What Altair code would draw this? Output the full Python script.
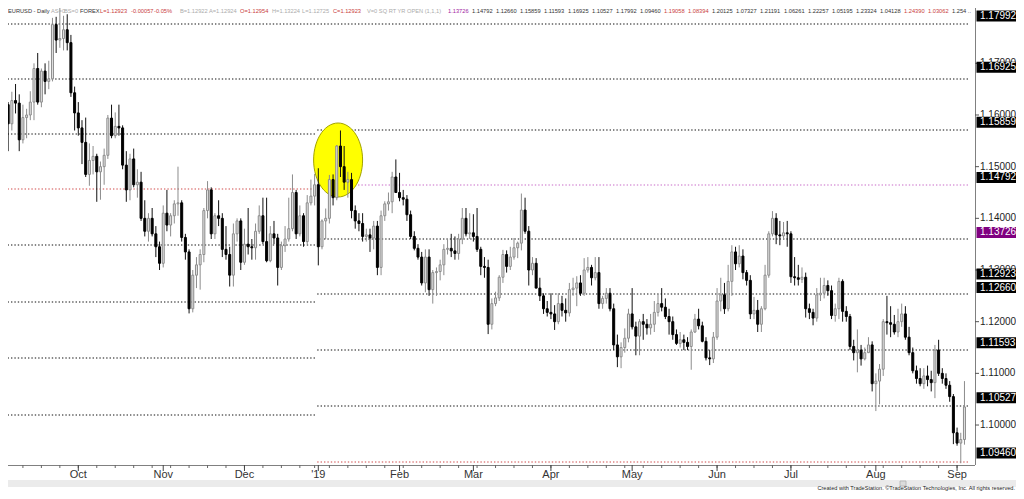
import math
import altair as alt
import numpy as np
import pandas as pd

# ---------------- data (EURUSD daily) ----------------
opens = [
    1.1620, 1.1583, 1.1628, 1.1623, 1.1552, 1.1595, 1.1600, 1.1625, 1.1690, 1.1625, 1.1685, 1.1665, 1.1670, 1.1775, 1.1745, 1.1748, 1.1765, 1.1740, 1.1643,
    1.1604, 1.1575, 1.1547, 1.1485, 1.1512, 1.1520, 1.1490, 1.1500, 1.1522, 1.1594, 1.1560, 1.1578, 1.1575, 1.1503, 1.1455, 1.1515, 1.1465, 1.1470, 1.1400, 1.1375, 1.1400, 1.1370, 1.1345,
    1.1313, 1.1410, 1.1387, 1.1405, 1.1428, 1.1430, 1.1363, 1.1335, 1.1225, 1.1290, 1.1310, 1.1330, 1.1415, 1.1455, 1.1370, 1.1405, 1.1400, 1.1340, 1.1330, 1.1290, 1.1370, 1.1395,
    1.1315, 1.1350, 1.1345, 1.1343, 1.1375, 1.1405, 1.1355, 1.1318, 1.1370, 1.1362, 1.1305, 1.1347, 1.1360, 1.1380, 1.1450, 1.1370, 1.1405, 1.1355, 1.1430, 1.1443,
    1.1465, 1.1345, 1.1395, 1.1400, 1.1475, 1.1440, 1.1540, 1.1500, 1.1470, 1.1475, 1.1415, 1.1395, 1.1390, 1.1365, 1.1368, 1.1362, 1.1385, 1.1305, 1.1405, 1.1428, 1.1432, 1.1480,
    1.1450, 1.1440, 1.1437, 1.1407, 1.1365, 1.1342, 1.1325, 1.1275, 1.1325, 1.1262, 1.1295, 1.1297, 1.1310, 1.1340, 1.1342, 1.1337, 1.1332, 1.1360, 1.1400, 1.1370,
    1.1372, 1.1365, 1.1340, 1.1307, 1.1305, 1.1195, 1.1235, 1.1246, 1.1286, 1.1330, 1.1307, 1.1325, 1.1343, 1.1352, 1.1416, 1.1375, 1.1300, 1.1313, 1.1265, 1.1250, 1.1225,
    1.1218, 1.1215, 1.1200, 1.1235, 1.1222, 1.1217, 1.1262, 1.1265, 1.1275, 1.1255, 1.1300, 1.1305, 1.1285, 1.1295, 1.1235, 1.1245, 1.1255, 1.1225, 1.1155, 1.1132, 1.1150, 1.1168,
    1.1215, 1.1190, 1.1172, 1.1200, 1.1195, 1.1188, 1.1195, 1.1218, 1.1235, 1.1228, 1.1210, 1.1200, 1.1175, 1.1158, 1.1165, 1.1160, 1.1152, 1.1180, 1.1205, 1.1192, 1.1162, 1.1130, 1.1128,
    1.1170, 1.1240, 1.1252, 1.1225, 1.1278, 1.1335, 1.1312, 1.1327, 1.1295, 1.1280, 1.1215, 1.1222, 1.1195, 1.1225, 1.1290, 1.1370, 1.1400, 1.1368, 1.1366, 1.1372,
    1.1370, 1.1287, 1.1285, 1.1282, 1.1286, 1.1225, 1.1218, 1.1207, 1.1252, 1.1255, 1.1270, 1.1260, 1.1212, 1.1225, 1.1278, 1.1220, 1.1210, 1.1152, 1.1140, 1.1145, 1.1128, 1.1140, 1.1155,
    1.1080, 1.1085, 1.1108, 1.1200, 1.1198, 1.1195, 1.1180, 1.1200, 1.1215, 1.1170, 1.1140, 1.1105, 1.1090, 1.1080, 1.1095, 1.1088, 1.1082, 1.1145, 1.1100, 1.1090, 1.1077, 1.1055,
    1.0985, 1.0965, 1.0972,
]
highs = [
    1.1625, 1.1645, 1.1660, 1.1640, 1.1620, 1.1612, 1.1646, 1.1700, 1.1720, 1.1690, 1.1700, 1.1705, 1.1788, 1.1790, 1.1815, 1.1792, 1.1795, 1.1755, 1.1655,
    1.1625, 1.1590, 1.1595, 1.1545, 1.1540, 1.1525, 1.1510, 1.1535, 1.1600, 1.1620, 1.1605, 1.1620, 1.1580, 1.1530, 1.1525, 1.1535, 1.1495, 1.1490, 1.1435, 1.1410, 1.1420, 1.1385, 1.1355,
    1.1425, 1.1455, 1.1410, 1.1435, 1.1500, 1.1435, 1.1370, 1.1340, 1.1300, 1.1325, 1.1340, 1.1420, 1.1472, 1.1460, 1.1410, 1.1435, 1.1410, 1.1385, 1.1345, 1.1390, 1.1400, 1.1400,
    1.1380, 1.1420, 1.1360, 1.1390, 1.1425, 1.1440, 1.1440, 1.1385, 1.1395, 1.1370, 1.1355, 1.1385, 1.1440, 1.1485, 1.1455, 1.1425, 1.1410, 1.1445, 1.1475, 1.1486,
    1.1497, 1.1398, 1.1419, 1.1484, 1.1485, 1.1542, 1.1570, 1.1540, 1.1490, 1.1488, 1.1425, 1.1410, 1.1410, 1.1380, 1.1380, 1.1395, 1.1395, 1.1415, 1.1433, 1.1450, 1.1490, 1.1514,
    1.1488, 1.1455, 1.1445, 1.1415, 1.1375, 1.1350, 1.1335, 1.1340, 1.1340, 1.1300, 1.1305, 1.1320, 1.1350, 1.1360, 1.1370, 1.1365, 1.1370, 1.1420, 1.1420, 1.1410,
    1.1408, 1.1420, 1.1345, 1.1325, 1.1320, 1.1245, 1.1258, 1.1290, 1.1339, 1.1338, 1.1345, 1.1362, 1.1355, 1.1448, 1.1440, 1.1385, 1.1325, 1.1323, 1.1285, 1.1255, 1.1240,
    1.1255, 1.1232, 1.1255, 1.1250, 1.1245, 1.1275, 1.1285, 1.1288, 1.1290, 1.1323, 1.1325, 1.1310, 1.1325, 1.1325, 1.1250, 1.1265, 1.1265, 1.1235, 1.1175, 1.1160, 1.1187, 1.1225,
    1.1265, 1.1200, 1.1205, 1.1215, 1.1205, 1.1215, 1.1240, 1.1253, 1.1265, 1.1245, 1.1225, 1.1210, 1.1185, 1.1180, 1.1175, 1.1170, 1.1185, 1.1215, 1.1225, 1.1200, 1.1170, 1.1145, 1.1180,
    1.1265, 1.1285, 1.1275, 1.1310, 1.1348, 1.1345, 1.1348, 1.1340, 1.1300, 1.1290, 1.1248, 1.1242, 1.1230, 1.1310, 1.1375, 1.1414, 1.1410, 1.1395, 1.1393, 1.1395,
    1.1375, 1.1325, 1.1310, 1.1305, 1.1295, 1.1235, 1.1225, 1.1265, 1.1285, 1.1285, 1.1280, 1.1270, 1.1235, 1.1285, 1.1282, 1.1230, 1.1215, 1.1165, 1.1185, 1.1155, 1.1150, 1.1170, 1.1162,
    1.1100, 1.1118, 1.1205, 1.1250, 1.1230, 1.1213, 1.1225, 1.1235, 1.1230, 1.1190, 1.1150, 1.1115, 1.1110, 1.1110, 1.1115, 1.1105, 1.1155, 1.1165, 1.1110, 1.1100, 1.1085, 1.1060,
    1.0995, 1.0985, 1.1085,
]
lows = [
    1.1530, 1.1570, 1.1603, 1.1530, 1.1545, 1.1555, 1.1590, 1.1590, 1.1620, 1.1615, 1.1640, 1.1650, 1.1665, 1.1720, 1.1730, 1.1725, 1.1725, 1.1635, 1.1570,
    1.1560, 1.1505, 1.1480, 1.1463, 1.1485, 1.1432, 1.1436, 1.1465, 1.1515, 1.1555, 1.1555, 1.1560, 1.1495, 1.1432, 1.1435, 1.1460, 1.1440, 1.1395, 1.1365, 1.1355, 1.1365, 1.1325, 1.1300,
    1.1305, 1.1375, 1.1365, 1.1390, 1.1405, 1.1355, 1.1320, 1.1216, 1.1218, 1.1265, 1.1262, 1.1315, 1.1400, 1.1360, 1.1360, 1.1385, 1.1325, 1.1320, 1.1268, 1.1268, 1.1355, 1.1300,
    1.1310, 1.1330, 1.1320, 1.1320, 1.1370, 1.1350, 1.1315, 1.1315, 1.1350, 1.1270, 1.1300, 1.1335, 1.1355, 1.1375, 1.1360, 1.1365, 1.1345, 1.1350, 1.1425, 1.1425,
    1.1309, 1.1340, 1.1360, 1.1390, 1.1425, 1.1435, 1.1480, 1.1455, 1.1440, 1.1400, 1.1380, 1.1375, 1.1355, 1.1355, 1.1335, 1.1340, 1.1290, 1.1290, 1.1395, 1.1415, 1.1410, 1.1450,
    1.1433, 1.1425, 1.1395, 1.1360, 1.1338, 1.1320, 1.1270, 1.1257, 1.1250, 1.1235, 1.1250, 1.1280, 1.1290, 1.1330, 1.1325, 1.1320, 1.1320, 1.1350, 1.1365, 1.1360,
    1.1355, 1.1335, 1.1290, 1.1285, 1.1176, 1.1185, 1.1230, 1.1240, 1.1275, 1.1295, 1.1300, 1.1320, 1.1323, 1.1338, 1.1370, 1.1270, 1.1290, 1.1265, 1.1240, 1.1215, 1.1210,
    1.1205, 1.1184, 1.1195, 1.1210, 1.1200, 1.1210, 1.1250, 1.1230, 1.1250, 1.1250, 1.1295, 1.1270, 1.1280, 1.1225, 1.1225, 1.1235, 1.1220, 1.1145, 1.1112, 1.1110, 1.1140, 1.1160,
    1.1185, 1.1135, 1.1135, 1.1165, 1.1175, 1.1175, 1.1180, 1.1210, 1.1220, 1.1205, 1.1175, 1.1165, 1.1155, 1.1150, 1.1145, 1.1145, 1.1107, 1.1178, 1.1185, 1.1160, 1.1125, 1.1116, 1.1120,
    1.1165, 1.1220, 1.1215, 1.1220, 1.1250, 1.1300, 1.1305, 1.1282, 1.1270, 1.1205, 1.1205, 1.1180, 1.1180, 1.1222, 1.1285, 1.1365, 1.1350, 1.1348, 1.1360, 1.1345,
    1.1275, 1.1270, 1.1270, 1.1275, 1.1208, 1.1205, 1.1193, 1.1200, 1.1240, 1.1245, 1.1250, 1.1205, 1.1200, 1.1205, 1.1200, 1.1200, 1.1145, 1.1125, 1.1102, 1.1115, 1.1125, 1.1140, 1.1065,
    1.1027, 1.1040, 1.1095, 1.1175, 1.1170, 1.1175, 1.1170, 1.1190, 1.1165, 1.1135, 1.1100, 1.1080, 1.1075, 1.1070, 1.1075, 1.1065, 1.1052, 1.1095, 1.1080, 1.1070, 1.1045, 1.0963,
    1.0960, 1.0926, 1.0962,
]
closes = [
    1.1583, 1.1628, 1.1623, 1.1552, 1.1595, 1.1600, 1.1625, 1.1690, 1.1625, 1.1685, 1.1665, 1.1670, 1.1775, 1.1745, 1.1748, 1.1765, 1.1740, 1.1643, 1.1604,
    1.1575, 1.1547, 1.1485, 1.1512, 1.1520, 1.1490, 1.1500, 1.1522, 1.1594, 1.1560, 1.1578, 1.1575, 1.1503, 1.1455, 1.1515, 1.1465, 1.1470, 1.1400, 1.1375, 1.1400, 1.1370, 1.1345, 1.1313,
    1.1410, 1.1387, 1.1405, 1.1428, 1.1430, 1.1363, 1.1335, 1.1225, 1.1290, 1.1310, 1.1330, 1.1415, 1.1455, 1.1370, 1.1405, 1.1400, 1.1340, 1.1330, 1.1290, 1.1370, 1.1395, 1.1315,
    1.1350, 1.1345, 1.1343, 1.1375, 1.1405, 1.1355, 1.1318, 1.1370, 1.1362, 1.1305, 1.1347, 1.1360, 1.1380, 1.1450, 1.1370, 1.1405, 1.1355, 1.1430, 1.1443, 1.1465,
    1.1345, 1.1395, 1.1400, 1.1475, 1.1440, 1.1540, 1.1500, 1.1470, 1.1475, 1.1415, 1.1395, 1.1390, 1.1365, 1.1368, 1.1362, 1.1385, 1.1305, 1.1405, 1.1428, 1.1432, 1.1480, 1.1450,
    1.1440, 1.1437, 1.1407, 1.1365, 1.1342, 1.1325, 1.1275, 1.1325, 1.1262, 1.1295, 1.1297, 1.1310, 1.1340, 1.1342, 1.1337, 1.1332, 1.1360, 1.1400, 1.1370, 1.1372,
    1.1365, 1.1340, 1.1307, 1.1305, 1.1195, 1.1235, 1.1246, 1.1286, 1.1330, 1.1307, 1.1325, 1.1343, 1.1352, 1.1416, 1.1375, 1.1300, 1.1313, 1.1265, 1.1250, 1.1225, 1.1218,
    1.1215, 1.1200, 1.1235, 1.1222, 1.1217, 1.1262, 1.1265, 1.1275, 1.1255, 1.1300, 1.1305, 1.1285, 1.1295, 1.1235, 1.1245, 1.1255, 1.1225, 1.1155, 1.1132, 1.1150, 1.1168, 1.1215,
    1.1190, 1.1172, 1.1200, 1.1195, 1.1188, 1.1195, 1.1218, 1.1235, 1.1228, 1.1210, 1.1200, 1.1175, 1.1158, 1.1165, 1.1160, 1.1152, 1.1180, 1.1205, 1.1192, 1.1162, 1.1130, 1.1128, 1.1170,
    1.1240, 1.1252, 1.1225, 1.1278, 1.1335, 1.1312, 1.1327, 1.1295, 1.1280, 1.1215, 1.1222, 1.1195, 1.1225, 1.1290, 1.1370, 1.1400, 1.1368, 1.1366, 1.1372, 1.1370,
    1.1287, 1.1285, 1.1282, 1.1286, 1.1225, 1.1218, 1.1207, 1.1252, 1.1255, 1.1270, 1.1260, 1.1212, 1.1225, 1.1278, 1.1220, 1.1210, 1.1152, 1.1140, 1.1145, 1.1128, 1.1140, 1.1155, 1.1080,
    1.1085, 1.1108, 1.1200, 1.1198, 1.1195, 1.1180, 1.1200, 1.1215, 1.1170, 1.1140, 1.1105, 1.1090, 1.1080, 1.1095, 1.1088, 1.1082, 1.1145, 1.1100, 1.1090, 1.1077, 1.1055, 1.0985,
    1.0965, 1.0972, 1.1035,
]

month_labels = ["Oct", "Nov", "Dec", "'19", "Feb", "Mar", "Apr", "May", "Jun", "Jul", "Aug", "Sep"]
axis_prices = [1.10, 1.11, 1.12, 1.13, 1.14, 1.15, 1.16, 1.17]
level_labels = [1.16925, 1.15859, 1.14792, 1.12923, 1.12660, 1.11593, 1.10527, 1.09460]
top_label = 1.17992
yr_open_label = 1.13726
left_lines = [1.17761, 1.16697, 1.15632, 1.14568, 1.13484, 1.12381, 1.11297, 1.10194]
right_lines = [1.17761, 1.16697, 1.15710, 1.14645, 1.13600, 1.12536, 1.11452, 1.10368, 1.09284]
circle_center = (89.36, 1.15129)
header_texts = [
    "EURUSD - Daily", "AS=0", "BS=0", "FOREX", "L=1.12923", "-0.00057", "-0.05%",
    "B=1.12922", "A=1.12924", "O=1.12954", "H=1.13224", "L=1.12725", "C=1.12923",
    "V=0  SQ RT YR OPEN (1,1,1)", "1.13726", "1.14792", "1.12660", "1.15859", "1.11593",
    "1.16925", "1.10527", "1.17992", "1.09460", "1.19058", "1.08394", "1.20125", "1.07327",
    "1.21191", "1.06261", "1.22257", "1.05195", "1.23324", "1.04128", "1.24390", "1.03062", "1.254 ..",
]
credit = "Created with TradeStation. \u00a9TradeStation Technologies, Inc. All rights reserved."

# ---------------- layout / style ----------------
FONT = "Liberation Sans"
W, H = 1008, 483          # whole canvas
PW, PH = 967, 457         # plot area
XD = [1.313, 260.5]
YD = [1.092263, 1.180708]
DARK, LIGHT, RED, MAG = "#333333", "#ababab", "#c94040", "#a21ca2"
header_colors = [DARK, LIGHT, LIGHT, DARK, RED, RED, RED, LIGHT, LIGHT, RED, LIGHT, LIGHT, RED,
                 LIGHT, MAG] + [DARK] * 8 + [RED, RED] + [DARK] * 8 + [RED, RED, DARK]
header_x = [0, 43, 56, 72, 92, 123, 146, 172, 201, 232, 264, 294, 325, 359, 440] + \
           [464 + 24 * k for k in range(21)]
header_size = 5.7

xs = alt.Scale(domain=XD, range=[0, PW], zero=False, nice=False)
ys = alt.Scale(domain=YD, range=[PH, 0], zero=False, nice=False)

dates = pd.bdate_range("2018-09-04", "2019-09-04")
dates = dates[~dates.isin(pd.to_datetime(["2018-12-25", "2019-01-01"]))]
n = len(dates)
assert len(opens) == len(highs) == len(lows) == len(closes) == n

df = pd.DataFrame({"i": np.arange(n), "date": dates.strftime("%Y-%m-%d"),
                   "open": opens, "high": highs, "low": lows, "close": closes})
df["dir"] = np.where(df["close"] >= df["open"], "up", "down")

month_idx = [i for i in range(1, n) if dates[i].month != dates[i - 1].month]
week_idx = [i for i in range(1, n) if dates[i].weekday() < dates[i - 1].weekday()]
months_df = pd.DataFrame({"i": month_idx, "lab": month_labels})
weeks_df = pd.DataFrame({"i": week_idx})

lines_df = pd.DataFrame(
    [{"p": p, "x0": -2.0, "x1": 83.3, "kind": "red" if k == 3 else "dot"} for k, p in enumerate(left_lines)] +
    [{"p": p, "x0": 83.7, "x1": XD[1], "kind": ("pink" if k == 3 else "red" if k == 8 else "dot")}
     for k, p in enumerate(right_lines)]
)

one = pd.DataFrame({"a": [0]})


def X(f):
    return alt.X(f, type="quantitative", scale=xs, axis=None)


def Y(f):
    return alt.Y(f, type="quantitative", scale=ys, axis=None)


layers = []

# level lines
for kind, col in [("dot", "#111111"), ("red", "#d04848"), ("pink", "#c86ac8")]:
    layers.append(
        alt.Chart(lines_df).transform_filter(alt.datum.kind == kind)
        .mark_rule(strokeDash=[1.4, 2.0], strokeWidth=1.1, color=col)
        .encode(x=X("x0"), x2="x1", y=Y("p"))
    )

# yellow ellipse annotation
pts = []
for k in range(60):
    t = 2 * math.pi * k / 60
    pts.append(f"{0.662 * math.cos(t):.4f},{math.sin(t):.4f}")
ellipse_path = "M" + " L".join(pts) + " Z"
layers.append(
    alt.Chart(pd.DataFrame({"i": [circle_center[0]], "p": [circle_center[1]]}))
    .mark_point(shape=ellipse_path, size=74 * 74, filled=True, fill="#ffff00",
                stroke="#a3a300", strokeWidth=1, opacity=1)
    .encode(x=X("i"), y=Y("p"))
)

# candles
for d, wick, body_fill, body_stroke in [("up", "#8c8c8c", "#e2e2e2", "#8c8c8c"),
                                        ("down", "#111111", "#000000", "#000000")]:
    layers.append(
        alt.Chart(df).transform_filter(alt.datum.dir == d)
        .mark_rule(strokeWidth=1, color=wick)
        .encode(x=X("i"), y=Y("low"), y2="high")
    )
    layers.append(
        alt.Chart(df).transform_filter(alt.datum.dir == d)
        .mark_bar(size=2, strokeWidth=1, fill=body_fill, stroke=body_stroke, opacity=1)
        .encode(x=X("i"), y=Y("open"), y2="close")
    )

# right axis
layers.append(alt.Chart(one).mark_rule(color="#808080", strokeWidth=1).encode(
    x=alt.value(PW + 0.5), y=alt.value(0), y2=alt.value(PH)))
ax_df = pd.DataFrame({"p": axis_prices, "lab": [f"{v:.5f}" for v in axis_prices]})
layers.append(alt.Chart(ax_df).mark_rule(color="#555555").encode(
    x=alt.value(PW), x2=alt.value(PW + 4), y=Y("p")))
layers.append(alt.Chart(ax_df).mark_text(align="left", baseline="middle", font=FONT, fontSize=10,
                                         color="#1e1e1e").encode(
    x=alt.value(PW + 5), y=Y("p"), text="lab:N"))

lv_df = pd.DataFrame({"p": level_labels, "lab": [f"{v:.5f}" for v in level_labels]})
yr_df = pd.DataFrame({"p": [yr_open_label], "lab": [f"{yr_open_label:.5f}"]})
top_df = pd.DataFrame({"p": [top_label], "lab": [f"{top_label:.5f}"]})
for d, col, off in [(lv_df, "#000000", 0), (yr_df, "#800080", 0), (top_df, "#000000", 4)]:
    layers.append(alt.Chart(d).mark_tick(orient="horizontal", size=40, thickness=11, color=col,
                                         opacity=1, yOffset=off).encode(x=alt.value(988.5), y=Y("p")))
    layers.append(alt.Chart(d).mark_text(align="left", baseline="middle", font=FONT, fontSize=10,
                                         color="#ffffff", dy=off).encode(
        x=alt.value(PW + 5), y=Y("p"), text="lab:N"))

# bottom axis
layers.append(alt.Chart(one).mark_rule(color="#808080").encode(
    x=alt.value(-8), x2=alt.value(PW), y=alt.value(PH + 0.5)))
layers.append(alt.Chart(weeks_df).mark_rule(color="#666666").encode(
    x=X("i"), y=alt.value(PH), y2=alt.value(PH + 3)))
layers.append(alt.Chart(months_df).mark_rule(color="#444444").encode(
    x=X("i"), y=alt.value(PH), y2=alt.value(PH + 6)))
layers.append(alt.Chart(months_df).mark_text(baseline="middle", font=FONT, fontSize=11,
                                             color="#333333").encode(
    x=X("i"), y=alt.value(PH + 10), text="lab:N"))

# scrollbar strip and credit
layers.append(alt.Chart(one).mark_rect(color="#ebebeb").encode(
    x=alt.value(0), x2=alt.value(W), y=alt.value(472), y2=alt.value(479)))
layers.append(alt.Chart(one).mark_rect(fill="#dcdcdc", stroke="#b0b0b0", strokeWidth=0.8).encode(
    x=alt.value(892), x2=alt.value(898), y=alt.value(473), y2=alt.value(478)))
layers.append(alt.Chart(pd.DataFrame({"t": [credit]})).mark_text(
    align="right", baseline="bottom", font=FONT, fontSize=5.6, color="#222222").encode(
    x=alt.value(W - 1), y=alt.value(H), text="t:N"))

# header line
for txt, col, hx in zip(header_texts, header_colors, header_x):
    layers.append(alt.Chart(pd.DataFrame({"t": [txt]})).mark_text(
        align="left", baseline="top", font=FONT, fontSize=header_size, color=col).encode(
        x=alt.value(hx), y=alt.value(0), text="t:N"))

chart = alt.layer(*layers).properties(
    width=W, height=H, padding=0, autosize=alt.AutoSizeParams(type="none"),
    background="#ffffff",
).configure_view(stroke=None)

chart.save("out.html", embed_options={"renderer": "svg", "actions": False})
